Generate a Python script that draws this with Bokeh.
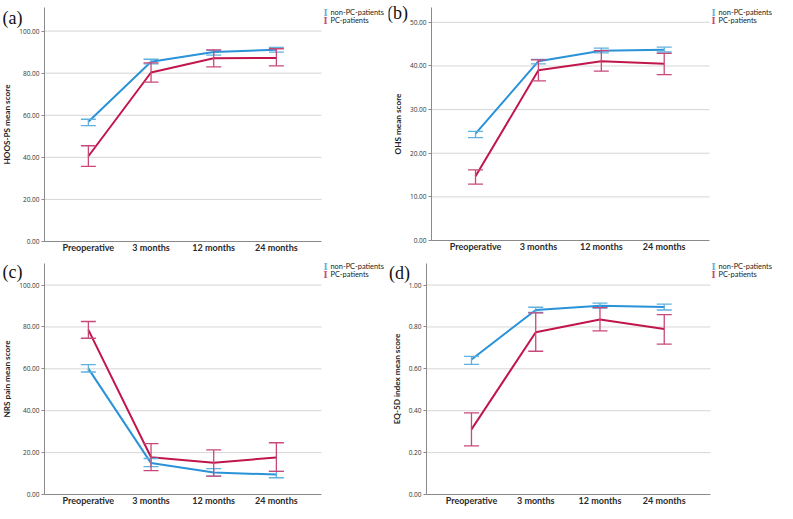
from bokeh.plotting import figure
from bokeh.models import (ColumnDataSource, Whisker, TeeHead, Label, FixedTicker,
                          Range1d, NumeralTickFormatter, LinearAxis)
from bokeh.layouts import column, row
from bokeh.embed import file_html
from bokeh.resources import INLINE

categories = ["Preoperative", "3 months", "12 months", "24 months"]
series_names = ["non-PC-patients", "PC-patients"]

# (a) HOOS-PS
hoos_non_mean = [56.9, 85.4, 90.0, 91.1]
hoos_non_low = [55.1, 84.4, 88.6, 90.0]
hoos_non_high = [58.1, 86.6, 90.8, 92.2]
hoos_pc_mean = [40.5, 80.3, 87.1, 87.2]
hoos_pc_low = [35.7, 75.7, 83.0, 83.5]
hoos_pc_high = [45.5, 84.9, 91.1, 91.6]

# (b) OHS
ohs_non_mean = [24.5, 41.1, 43.5, 43.7]
ohs_non_low = [23.6, 40.5, 43.0, 43.2]
ohs_non_high = [25.0, 41.5, 44.1, 44.3]
ohs_pc_mean = [14.7, 39.0, 41.1, 40.5]
ohs_pc_low = [12.9, 36.6, 38.8, 38.0]
ohs_pc_high = [16.2, 41.4, 43.5, 42.9]

# (c) NRS pain
nrs_non_mean = [60.1, 15.0, 10.5, 9.5]
nrs_non_low = [58.5, 13.3, 8.8, 8.0]
nrs_non_high = [62.0, 17.2, 12.4, 11.0]
nrs_pc_mean = [78.6, 17.8, 15.2, 17.7]
nrs_pc_low = [74.6, 11.4, 8.8, 11.0]
nrs_pc_high = [82.6, 24.3, 21.3, 24.7]

# (d) EQ-5D index
eq_non_mean = [0.645, 0.881, 0.901, 0.895]
eq_non_low = [0.621, 0.869, 0.890, 0.881]
eq_non_high = [0.660, 0.894, 0.914, 0.909]
eq_pc_mean = [0.311, 0.775, 0.836, 0.790]
eq_pc_low = [0.232, 0.684, 0.781, 0.718]
eq_pc_high = [0.390, 0.867, 0.892, 0.859]

BLUE = "#2a92d8"
BLUE_BAR = "#5fb1de"
RED = "#c1164b"
RED_BAR = "#c8487a"
SANS = "Lato"
AXIS_GREY = "#8a8a8a"
X0, X1 = -0.7, 3.72


def make_panel(tag, ylabel, ymax, yticks, fmt, non, pc, W, H, L, R, T, B, tag_px, leg_py):
    xs = list(range(len(categories)))
    ux = (X1 - X0) / (R - L)
    uy = ymax / (B - T)
    p = figure(width=W, height=H,
               x_range=Range1d(X0 - L * ux, X1 + (W - R) * ux),
               y_range=Range1d(-(H - B) * uy, ymax + T * uy),
               output_backend="svg", toolbar_location=None,
               x_axis_location=None, y_axis_location=None,
               min_border=0, min_border_left=0, min_border_right=0,
               min_border_top=0, min_border_bottom=0)
    p.outline_line_color = None
    p.background_fill_color = "white"
    p.border_fill_color = "white"
    p.grid.visible = False

    def px2x(px):
        return X0 + (px - L) * ux

    def py2y(py):
        return (B - py) * uy

    # horizontal gridlines across the plotting area only
    gt = yticks[1:]
    p.segment(x0=[X0] * len(gt), x1=[X1] * len(gt), y0=gt, y1=gt,
              line_color="#d6d6d6", line_width=1, level="underlay")

    xa = LinearAxis(fixed_location=0, bounds=(X0, X1))
    xa.ticker = FixedTicker(ticks=xs)
    xa.major_label_overrides = {i: c for i, c in zip(xs, categories)}
    xa.major_tick_line_color = None
    xa.minor_tick_line_color = None
    xa.axis_line_color = AXIS_GREY
    xa.major_label_text_font = SANS
    xa.major_label_text_font_size = "9px"
    xa.major_label_text_font_style = "bold"
    xa.major_label_text_color = "#2a2a2a"
    xa.major_label_standoff = -6
    p.add_layout(xa, "below")

    ya = LinearAxis(fixed_location=X0, bounds=(0, ymax))
    ya.ticker = FixedTicker(ticks=yticks)
    ya.formatter = NumeralTickFormatter(format=fmt)
    ya.minor_tick_line_color = None
    ya.major_tick_in = 0
    ya.major_tick_out = 3
    ya.major_tick_line_color = AXIS_GREY
    ya.axis_line_color = AXIS_GREY
    ya.major_label_text_font = "Open Sans"
    ya.major_label_text_font_size = "6.5px"
    ya.major_label_text_color = "#333333"
    ya.major_label_standoff = 2
    ya.axis_label = ylabel
    ya.axis_label_text_font = SANS
    ya.axis_label_text_font_size = "8.2px"
    ya.axis_label_text_font_style = "bold"
    ya.axis_label_text_color = "#222222"
    ya.axis_label_standoff = 4
    p.add_layout(ya, "left")

    for (mean, low, high), lc, bc in ((non, BLUE, BLUE_BAR), (pc, RED, RED_BAR)):
        src = ColumnDataSource(dict(x=xs, y=mean, low=low, high=high))
        p.line("x", "y", source=src, line_color=lc, line_width=2)
        w = Whisker(source=src, base="x", upper="high", lower="low",
                    line_color=bc, line_width=1.3, level="overlay",
                    upper_head=TeeHead(size=15, line_color=bc, line_width=1.3),
                    lower_head=TeeHead(size=15, line_color=bc, line_width=1.3))
        p.add_layout(w)

    p.add_layout(Label(x=px2x(tag_px[0]), y=py2y(tag_px[1]), text=tag,
                       text_font="Liberation Serif", text_font_size="18px",
                       text_color="#111111", text_align="center",
                       text_baseline="middle"))
    for name, col, ly in zip(series_names, (BLUE_BAR, RED_BAR), leg_py):
        p.add_layout(Label(x=px2x(325), y=py2y(ly), text="I",
                           text_font="Liberation Serif", text_font_size="10.5px",
                           text_font_style="bold", text_color=col,
                           text_align="center", text_baseline="middle"))
        p.add_layout(Label(x=px2x(330), y=py2y(ly), text=name, text_font=SANS,
                           text_font_size="7.4px", text_color="#222222",
                           text_align="left", text_baseline="middle"))
    return p


pa = make_panel("(a)", "HOOS-PS mean score", 111.2, [0, 20, 40, 60, 80, 100], "0.00",
                (hoos_non_mean, hoos_non_low, hoos_non_high),
                (hoos_pc_mean, hoos_pc_low, hoos_pc_high),
                388, 256, 44, 321, 7, 241, (12, 17), (12, 20))
pb = make_panel("(b)", "OHS mean score", 53.4, [0, 10, 20, 30, 40, 50], "0.00",
                (ohs_non_mean, ohs_non_low, ohs_non_high),
                (ohs_pc_mean, ohs_pc_low, ohs_pc_high),
                389, 256, 43, 321, 7, 240, (9, 12), (12, 20))
pc = make_panel("(c)", "NRS pain mean score", 110.3, [0, 20, 40, 60, 80, 100], "0.00",
                (nrs_non_mean, nrs_non_low, nrs_non_high),
                (nrs_pc_mean, nrs_pc_low, nrs_pc_high),
                388, 255, 44, 321, 7, 238, (12, 15), (10, 18))
pd_ = make_panel("(d)", "EQ-5D index mean score", 1.103, [0, 0.2, 0.4, 0.6, 0.8, 1.0], "0.00",
                 (eq_non_mean, eq_non_low, eq_non_high),
                 (eq_pc_mean, eq_pc_low, eq_pc_high),
                 389, 255, 38, 322, 7, 238, (11, 16), (10, 18))

layout = column(row(pa, pb), row(pc, pd_))
open("out.html", "w").write(file_html(layout, INLINE))
